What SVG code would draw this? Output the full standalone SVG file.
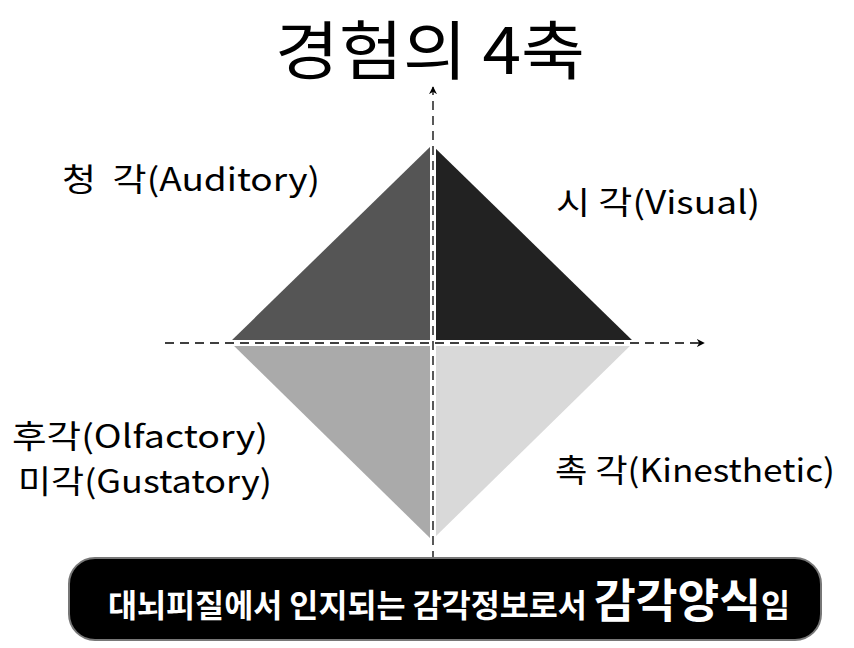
<svg xmlns="http://www.w3.org/2000/svg" width="854" height="648" viewBox="0 0 854 648">
<style>
.t{font-family:"Noto Sans CJK KR","Noto Sans",sans-serif;fill:#000;white-space:pre}
.lbl{font-size:32px}
.ax{stroke:#000;stroke-width:1.3;stroke-dasharray:9,6;fill:none}
.gap{stroke:#fff;stroke-width:6}
</style>
<defs>
<marker id="ar" viewBox="0 0 10 10" refX="9" refY="5" markerWidth="8" markerHeight="8" orient="auto" markerUnits="userSpaceOnUse">
<path d="M0,0 L10,5 L0,10 L3,5 Z" fill="#000"/>
</marker>
</defs>
<rect width="854" height="648" fill="#fff"/>
<text class="t" x="275" y="74" font-size="64" textLength="310" lengthAdjust="spacingAndGlyphs">경험의 4축</text>
<g id="q-auditory"><polygon points="432,145 432,342 230,342" fill="#555"/></g>
<g id="q-visual"><polygon points="432,145 634,342 432,342" fill="#222"/></g>
<g id="q-olfactory"><polygon points="230,342 432,342 432,540" fill="#aaa"/></g>
<g id="q-kinesthetic"><polygon points="432,342 634,342 432,540" fill="#d9d9d9"/></g>
<g id="connectors">
<line class="gap" x1="225" y1="343" x2="640" y2="343"/>
<line class="gap" x1="433" y1="140" x2="433" y2="545"/>
<line class="ax" x1="165" y1="343" x2="704" y2="343" marker-end="url(#ar)"/>
<line class="ax" x1="433" y1="560" x2="433" y2="87" marker-end="url(#ar)"/>
</g>
<g id="lbl-auditory"><text class="t lbl" x="62" y="191" textLength="258" lengthAdjust="spacingAndGlyphs">청  각(Auditory)</text></g>
<g id="lbl-visual"><text class="t lbl" x="556" y="214" textLength="204" lengthAdjust="spacingAndGlyphs">시 각(Visual)</text></g>
<g id="lbl-olfactory"><text class="t lbl" x="12" y="448" textLength="256" lengthAdjust="spacingAndGlyphs">후각(Olfactory)</text><text class="t lbl" x="18" y="493" textLength="254" lengthAdjust="spacingAndGlyphs">미각(Gustatory)</text></g>
<g id="lbl-kinesthetic"><text class="t lbl" x="555" y="482" textLength="280" lengthAdjust="spacingAndGlyphs">촉 각(Kinesthetic)</text></g>
<g id="banner">
<rect x="69" y="558" width="752" height="82" rx="26" fill="#000" stroke="#777" stroke-width="2"/>
<text x="108" y="617" textLength="682" lengthAdjust="spacingAndGlyphs" style="font-family:'Noto Sans CJK KR',sans-serif;font-weight:bold;fill:#fff;white-space:pre"><tspan font-size="32">대뇌피질에서 인지되는 감각정보로서 </tspan><tspan font-size="46">감각양식</tspan><tspan font-size="32">임</tspan></text>
</g>
</svg>
